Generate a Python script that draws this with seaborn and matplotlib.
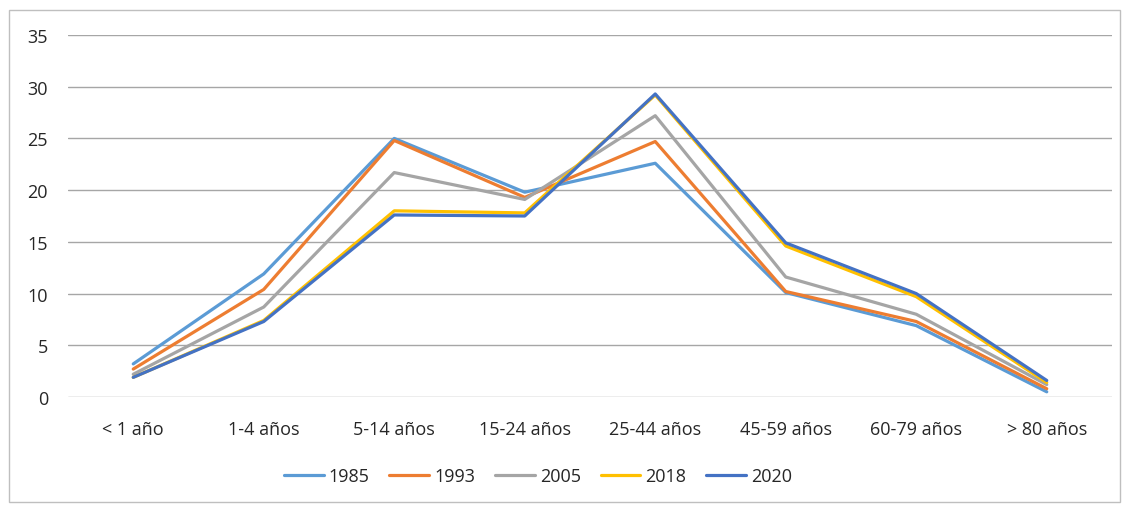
import matplotlib
matplotlib.use("Agg")
import matplotlib.pyplot as plt
import seaborn as sns
import pandas as pd
from matplotlib.patches import Rectangle

categories = ["< 1 año", "1-4 años", "5-14 años", "15-24 años", "25-44 años",
              "45-59 años", "60-79 años", "> 80 años"]
years = ["1985", "1993", "2005", "2018", "2020"]
v1985 = [3.2, 11.9, 25.0, 19.8, 22.6, 10.1, 6.9, 0.5]
v1993 = [2.7, 10.4, 24.8, 19.3, 24.7, 10.2, 7.3, 0.8]
v2005 = [2.2, 8.7, 21.7, 19.1, 27.2, 11.6, 8.0, 1.2]
v2018 = [1.9, 7.4, 18.0, 17.8, 29.2, 14.6, 9.7, 1.4]
v2020 = [1.9, 7.3, 17.6, 17.5, 29.3, 14.9, 10.0, 1.6]
yticks = [0, 5, 10, 15, 20, 25, 30, 35]

colors = ["#5B9BD5", "#ED7D31", "#A5A5A5", "#FFC000", "#4472C4"]

series = [v1985, v1993, v2005, v2018, v2020]
rows = []
for yr, vals in zip(years, series):
    for i, v in enumerate(vals):
        rows.append({"x": i, "value": v, "year": yr})
df = pd.DataFrame(rows)

sns.set_theme(style="white")
plt.rcParams["font.family"] = ["Open Sans", "DejaVu Sans"]

fig = plt.figure(figsize=(11.23, 5.06), dpi=100)
ax = fig.add_axes([68/1123, 1 - 398/506, (1112-68)/1123, (398-36)/506])

sns.lineplot(data=df, x="x", y="value", hue="year", hue_order=years,
             palette=colors, linewidth=2.3, ax=ax, legend=False, sort=False)

ax.set_xlim(-0.5, 7.5)
ax.set_ylim(0, 35)
ax.set_yticks(yticks)
ax.set_yticklabels([str(t) for t in yticks], fontsize=13, color="#262626")
ax.set_xticks(range(len(categories)))
ax.set_xticklabels(categories, fontsize=13, color="#262626")
ax.tick_params(axis="y", length=0, pad=14.4)
ax.tick_params(axis="x", length=0, pad=16.5)
ax.set_xlabel("")
ax.set_ylabel("")
for s in ax.spines.values():
    s.set_visible(False)
ax.yaxis.grid(True, color="#A6A6A6", linewidth=1.0)
ax.xaxis.grid(False)
ax.set_axisbelow(True)

handles = [plt.Line2D([0], [0], color=c, lw=2.3) for c in colors]
fig.legend(handles, years, loc="center", bbox_to_anchor=(538/1123, 1 - 477/506),
           ncol=5, frameon=False, fontsize=13, handlelength=2.2,
           columnspacing=1.1, handletextpad=0.28)

fig.patches.append(Rectangle((9/1123, 3/506), 1111/1123, 1 - 14/506,
                             transform=fig.transFigure, fill=False,
                             edgecolor="#BFBFBF", linewidth=1.0))

fig.savefig("out.png", dpi=100)
